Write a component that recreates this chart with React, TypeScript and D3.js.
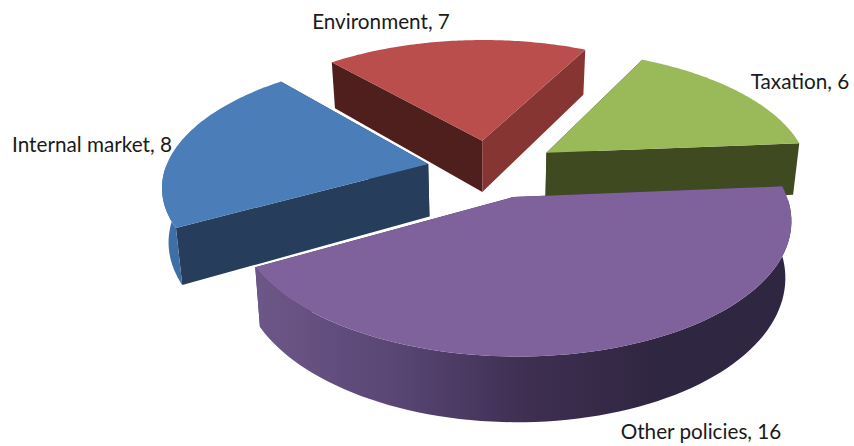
import React from "react";
import * as d3 from "d3";

const categories = ["Internal market", "Environment", "Taxation", "Other policies"];
const values = [8, 7, 6, 16];
const topColors = ["#4b7eb9", "#b94e4c", "#9aba59", "#7f619c"];
const innerWall = ["#263d5c", "#4f1f1e", "#3f4a21", "#3a2c50"];
const endWall = ["#263d5c", "#873533", "#3f4a21", "#3a2c50"];
const outerStops = [
  ["#3f70a8", "#3a6496"],
  ["#873533", "#873533"],
  ["#3f4a21", "#3f4a21"],
  ["#6d5788", "#5a4776", "#3f2f52", "#2f2641", "#2f2641"],
];
const labelX = [92, 381, 800, 701];
const labelY = [152, 29, 89, 439];

const W = 854, H = 446;
const CX = 490, CY = 168, R = 268, TILT = 0.47, PERSP = 0.16, DEPTH = 53, EXPLODE = 0.22, START = -119, CONVERGE = 0.02;
const nudgeX = [-0.015, -0.003, 0.032, 0.02];
const nudgeZ = [0.005, -0.005, 0, 0.012];
const radiusScale = [0.98, 0.99, 0.98, 0.985];

function project(px: number, pz: number, down = 0): [number, number] {
  const s = 1 / (1 - PERSP * pz);
  return [CX + R * px * s * (1 - CONVERGE * down), CY + R * TILT * pz * s + DEPTH * s * down];
}

export default function App() {
  const pie = d3.pie<number>().sort(null)
    .startAngle((START * Math.PI) / 180)
    .endAngle(((START + 360) * Math.PI) / 180);
  const arcs = pie(values);
  const line = d3.line();
  const order = [1, 2, 0, 3];

  const shapes = arcs.map((a, i) => {
    const mid = (a.startAngle + a.endAngle) / 2;
    const ox = EXPLODE * Math.sin(mid) + nudgeX[i], oz = -EXPLODE * Math.cos(mid) + nudgeZ[i];
    const rs = radiusScale[i];
    const angles = d3.range(0, 81).map((k) => a.startAngle + ((a.endAngle - a.startAngle) * k) / 80);
    const rim = (down: number, list: number[]) => list.map((t) => project(ox + rs * Math.sin(t), oz - rs * Math.cos(t), down));
    const apexTop = project(ox, oz, 0), apexBot = project(ox, oz, 1);
    const top = rim(0, angles);
    const bot = rim(1, angles);
    const front = angles.filter((t) => Math.cos(t) < 0);
    const topFront = rim(0, front), botFront = rim(1, front);
    return {
      i,
      top: line([apexTop, ...top])! + "Z",
      outer: front.length > 1 ? line([...topFront, ...[...botFront].reverse()])! + "Z" : null,
      startFace: line([apexTop, top[0], bot[0], apexBot])! + "Z",
      endFace: line([apexTop, top[80], bot[80], apexBot])! + "Z",
      x0: d3.min(top, (p) => p[0])!,
      x1: d3.max(top, (p) => p[0])!,
    };
  });

  return (
    <svg width={W} height={H} style={{ position: "absolute", left: 0, top: 0, background: "#fff" }}>
      <defs>
        {shapes.map((s) => (
          <linearGradient key={s.i} id={`wall${s.i}`} gradientUnits="userSpaceOnUse" x1={s.x0} x2={s.x1} y1={0} y2={0}>
            {outerStops[s.i].map((c, k) => (
              <stop key={k} offset={k / (outerStops[s.i].length - 1)} stopColor={c} />
            ))}
          </linearGradient>
        ))}
      </defs>
      {order.map((i) => {
        const s = shapes[i];
        return (
          <g key={categories[i]}>
            <path d={s.startFace} fill={innerWall[i]} />
            <path d={s.endFace} fill={endWall[i]} />
            {s.outer && <path d={s.outer} fill={`url(#wall${i})`} />}
            <path d={s.top} fill={topColors[i]} />
          </g>
        );
      })}
      {categories.map((c, i) => (
        <text key={c} x={labelX[i]} y={labelY[i]} textAnchor="middle" fontFamily="Lato, 'Open Sans', sans-serif" fontSize={20.7} fill="#1a1a1a">
          {`${c}, ${values[i]}`}
        </text>
      ))}
    </svg>
  );
}
